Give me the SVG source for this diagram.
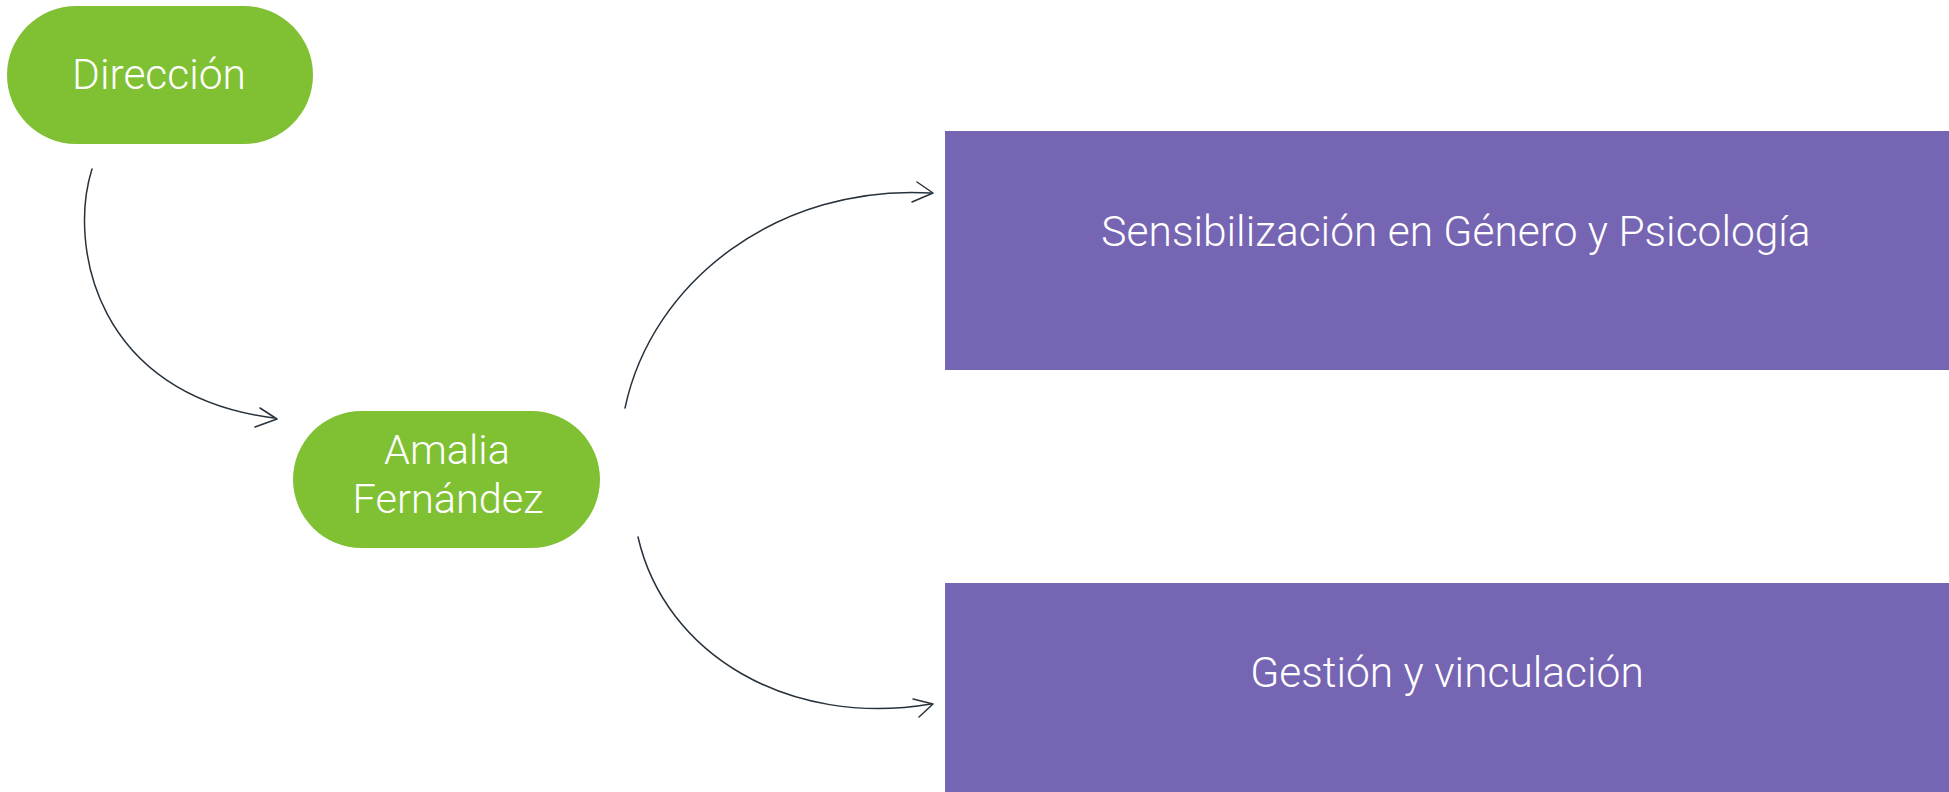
<svg xmlns="http://www.w3.org/2000/svg" width="1949" height="792" viewBox="0 0 1949 792">
<style>
.pill{fill:#80C134}
.box{fill:#7665B2}
.t{font-family:Roboto,"Liberation Sans",sans-serif;font-weight:300;font-size:42.5px;fill:#ffffff;text-anchor:middle}
.t2{font-size:41.5px}
.c{fill:none;stroke:#27323c;stroke-width:1.5;stroke-linecap:round;stroke-linejoin:round}
</style>
<rect width="1949" height="792" fill="#ffffff"/>
<g id="node-direccion">
<rect class="pill" x="7" y="6" width="306" height="138" rx="69" ry="69"/>
<text class="t" x="159" y="89">Dirección</text>
</g>
<g id="node-amalia">
<rect class="pill" x="293" y="411" width="307" height="137" rx="68.5" ry="68.5"/>
<text class="t t2" x="447" y="464">Amalia</text>
<text class="t t2" x="448" y="513">Fernández</text>
</g>
<g id="node-sensibilizacion">
<rect class="box" x="945" y="131" width="1004" height="239"/>
<text class="t" x="1456" y="246">Sensibilización en Género y Psicología</text>
</g>
<g id="node-gestion">
<rect class="box" x="945" y="583" width="1004" height="240"/>
<text class="t" x="1447" y="687">Gestión y vinculación</text>
</g>
<g id="connectors">
<path class="c" d="M 92 169 C 68 245 95 395 274 418"/>
<path class="c" d="M 260 408 L 277 419 L 255 427"/>
<path class="c" d="M 625 408 C 652 280 780 184 931 193"/>
<path class="c" d="M 917 182 L 933 193 L 912 202"/>
<path class="c" d="M 638 537 C 665 655 790 728 931 704"/>
<path class="c" d="M 913 699 L 933 704 L 919 717"/>
</g>
</svg>
